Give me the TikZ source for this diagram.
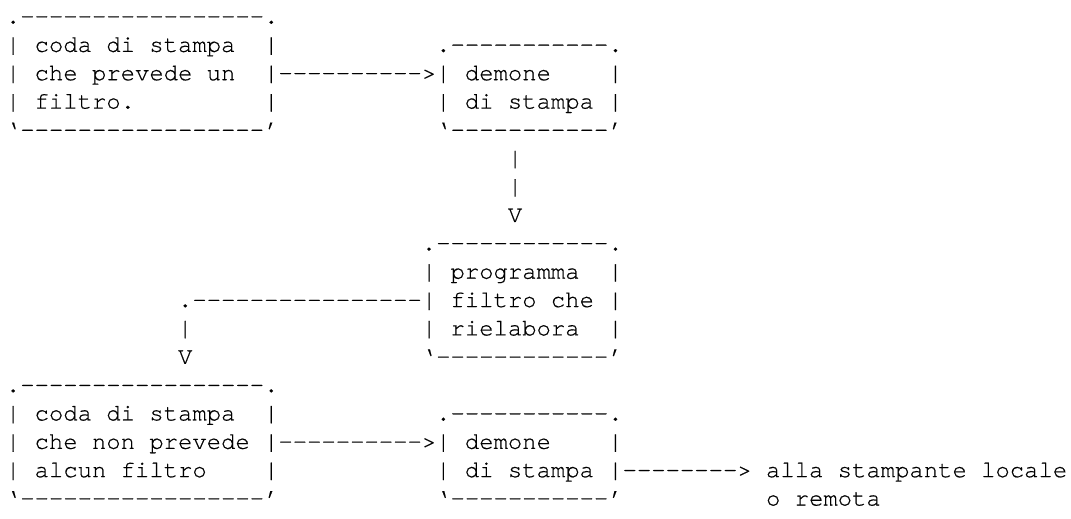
\documentclass[tikz,border=0pt]{standalone}
\usepackage{fontspec}
\setmonofont{texgyrecursor-regular.otf}[Ligatures={NoCommon},FakeBold=0.5]
\frenchspacing
\def\cw{7.2pt}
\def\lh{14.235pt}
\tikzset{
  txt/.style={inner sep=0pt, outer sep=0pt, anchor=base west, text=black,
    font=\ttfamily\fontsize{12pt}{14pt}\selectfont}
}
\newcommand\asc[4]{\node[txt] (#1) at ({#2*\cw},{-#3*\lh}) {#4};}
\begin{document}
\begin{tikzpicture}
\useasboundingbox (-3.0pt,11.8pt) rectangle (534.7pt,-248.3pt);
% first queue (with filter)
\asc{qa0}{0}{0}{.-----------------.}
\asc{qa1}{0}{1}{|~coda~di~stampa~~|}
\asc{qa2}{0}{2}{|~che~prevede~un~~|}
\asc{qa3}{0}{3}{|~filtro.~~~~~~~~~|}
\asc{qa4}{0}{4}{‘-----------------’}
% arrow to daemon
\asc{arrA}{19}{2}{---------->}
% first daemon
\asc{da0}{30}{1}{.-----------.}
\asc{da1}{30}{2}{|~demone~~~~|}
\asc{da2}{30}{3}{|~di~stampa~|}
\asc{da3}{30}{4}{‘-----------’}
% vertical arrow
\asc{vA}{35}{5}{|}
\asc{vB}{35}{6}{|}
\asc{vC}{35}{7}{V}
% filter program
\asc{pf0}{29}{8}{.------------.}
\asc{pf1}{29}{9}{|~programma~~|}
\asc{pf2}{29}{10}{|~filtro~che~|}
\asc{pf3}{29}{11}{|~rielabora~~|}
\asc{pf4}{29}{12}{‘------------’}
% return arrow
\asc{rA}{12}{10}{.----------------}
\asc{rB}{12}{11}{|}
\asc{rC}{12}{12}{V}
% second queue (no filter)
\asc{qb0}{0}{13}{.-----------------.}
\asc{qb1}{0}{14}{|~coda~di~stampa~~|}
\asc{qb2}{0}{15}{|~che~non~prevede~|}
\asc{qb3}{0}{16}{|~alcun~filtro~~~~|}
\asc{qb4}{0}{17}{‘-----------------’}
% arrow to second daemon
\asc{arrB}{19}{15}{---------->}
% second daemon
\asc{db0}{30}{14}{.-----------.}
\asc{db1}{30}{15}{|~demone~~~~|}
\asc{db2}{30}{16}{|~di~stampa~|}
\asc{db3}{30}{17}{‘-----------’}
% output
\asc{out1}{43}{16}{-------->~alla~stampante~locale}
\asc{out2}{53}{17}{o~remota}
\end{tikzpicture}
\end{document}
